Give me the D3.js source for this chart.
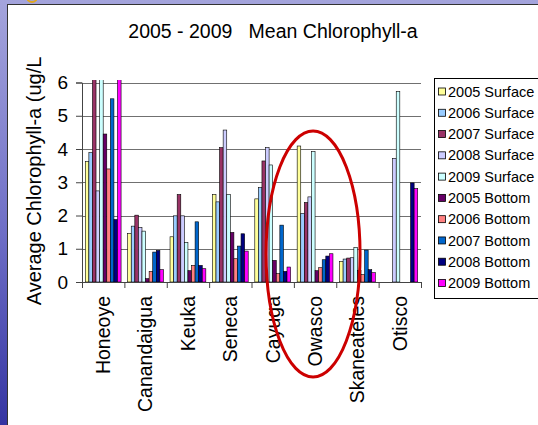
<!DOCTYPE html>
<html>
<head>
<meta charset="utf-8">
<script src="https://cdn.jsdelivr.net/npm/d3@7"></script>
<style>
  html, body { margin: 0; padding: 0; overflow: hidden; }
  text { font-family: Arial, "Liberation Sans", sans-serif; fill: #000; }
</style>
</head>
<body>
<svg id="chart" width="538" height="425"></svg>
<script>
// lakes along the x axis
const lakes = ["Honeoye", "Canandaigua", "Keuka", "Seneca", "Cayuga", "Owasco", "Skaneateles", "Otisco"]
const seriesNames = ["2005 Surface", "2006 Surface", "2007 Surface", "2008 Surface", "2009 Surface",
                     "2005 Bottom", "2006 Bottom", "2007 Bottom", "2008 Bottom", "2009 Bottom"]
const seriesColors = ["#FFFF99", "#99CCFF", "#993366", "#CCCCFF", "#CCFFFF",
                      "#660066", "#FF8080", "#0066CC", "#000080", "#FF00FF"]
const yTicks = [0, 1, 2, 3, 4, 5, 6]

// one array per series, one value per lake (null = no bar). bars above 6 run off the top
const s2005Surface = [3.62, 1.46, 1.36, 2.63, 2.50, 4.09, 0.62, null]
const s2006Surface = [3.89, 1.68, 1.99, 2.41, 2.84, 2.06, 0.69, null]
const s2007Surface = [7.0, 2.01, 2.63, 4.04, 3.64, 2.39, 0.72, null]
const s2008Surface = [2.74, 1.64, 1.99, 4.57, 4.04, 2.56, 0.73, 3.72]
const s2009Surface = [7.0, 1.53, 1.19, 2.63, 3.52, 3.92, 1.04, 5.73]
const s2005Bottom = [4.45, 0.10, 0.34, 1.49, 0.65, 0.34, 0.34, null]
const s2006Bottom = [3.40, 0.32, 0.50, 0.70, 0.25, 0.43, 0.22, null]
const s2007Bottom = [5.51, 0.90, 1.81, 1.08, 1.71, 0.67, 0.96, null]
const s2008Bottom = [1.88, 0.95, 0.50, 1.45, 0.32, 0.78, 0.37, 2.98]
const s2009Bottom = [7.0, 0.37, 0.40, 0.93, 0.45, 0.85, 0.28, 2.81]

const allSeries = [s2005Surface, s2006Surface, s2007Surface, s2008Surface, s2009Surface,
                   s2005Bottom, s2006Bottom, s2007Bottom, s2008Bottom, s2009Bottom]

const WIDTH = 538
const HEIGHT = 425
const PLOT = { left: 82, right: 421, top: 82.5, bottom: 282 }

const svg = d3.select("#chart")

// slide background
const defs = svg.append("defs")
const grad = defs.append("linearGradient")
    .attr("id", "slide").attr("x1", 0).attr("y1", 0).attr("x2", 0).attr("y2", 1)
grad.append("stop").attr("offset", "0%").attr("stop-color", "#a4a4dc")
grad.append("stop").attr("offset", "55%").attr("stop-color", "#6e6ec6")
grad.append("stop").attr("offset", "100%").attr("stop-color", "#3434a2")
svg.append("rect")
    .attr("width", WIDTH).attr("height", HEIGHT)
    .attr("fill", "url(#slide)")
svg.append("circle")
    .attr("cx", 32).attr("cy", -3).attr("r", 5)
    .attr("fill", "none").attr("stroke", "#e0a820").attr("stroke-width", 2)

// white chart box
svg.append("rect")
    .attr("x", 7.5).attr("y", 4.5)
    .attr("width", WIDTH).attr("height", HEIGHT)
    .attr("fill", "#fff").attr("stroke", "#333").attr("stroke-width", 1)

// scales
const x = d3.scaleBand().domain(lakes).range([PLOT.left, PLOT.right]).padding(0)
const xs = d3.scaleBand().domain(d3.range(seriesNames.length))
    .range([0, x.bandwidth()]).paddingInner(0).paddingOuter(0.92)
const y = d3.scaleLinear().domain([0, 6]).range([PLOT.bottom, PLOT.top])
const xEdge = d3.scaleLinear().domain([0, lakes.length]).range([PLOT.left, PLOT.right])

// gridlines
svg.append("g")
    .attr("transform", "translate(" + PLOT.left + ",0)")
    .call(d3.axisLeft(y).tickValues(yTicks.slice(1)).tickSize(-(PLOT.right - PLOT.left)).tickFormat(""))
    .call(g => g.select(".domain").remove())
    .call(g => g.selectAll("line").attr("stroke", "#707070").attr("shape-rendering", "crispEdges"))

// bars
defs.append("clipPath").attr("id", "plotclip")
    .append("rect")
    .attr("x", PLOT.left).attr("y", PLOT.top - 2.5)
    .attr("width", PLOT.right - PLOT.left).attr("height", PLOT.bottom - PLOT.top + 2.5)

const bars = []
allSeries.forEach(function(vals, si) {
    vals.forEach(function(v, li) {
        if (v !== null) bars.push({ lake: lakes[li], s: si, value: v })
    })
})

svg.append("g")
    .attr("clip-path", "url(#plotclip)")
    .selectAll("rect")
    .data(bars)
    .enter().append("rect")
    .attr("x", d => x(d.lake) + xs(d.s))
    .attr("y", d => y(d.value))
    .attr("width", xs.bandwidth())
    .attr("height", d => y(0) - y(d.value))
    .attr("fill", d => seriesColors[d.s])
    .attr("stroke", "#000")
    .attr("stroke-width", 0.6)

// y axis
svg.append("g")
    .attr("transform", "translate(" + PLOT.left + ",0)")
    .call(d3.axisLeft(y).tickValues(yTicks).tickSize(6).tickPadding(8).tickFormat(d3.format("d")))
    .call(g => g.select(".domain").attr("stroke", "#444"))
    .call(g => g.selectAll("line").attr("stroke", "#444"))
    .call(g => g.selectAll("text").attr("font-size", 19).attr("font-family", "Arial, 'Liberation Sans', sans-serif").attr("fill", "#000"))

// x axis with ticks between lakes
svg.append("g")
    .attr("transform", "translate(0," + PLOT.bottom + ")")
    .call(d3.axisBottom(xEdge).tickValues(d3.range(lakes.length + 1)).tickSize(6).tickSizeOuter(6).tickFormat(""))
    .call(g => g.select(".domain").attr("stroke", "#444"))
    .call(g => g.selectAll("line").attr("stroke", "#444"))

svg.append("g")
    .selectAll("text")
    .data(lakes)
    .enter().append("text")
    .attr("transform", d => "translate(" + (x(d) + x.bandwidth() / 2) + "," + 296 + ") rotate(-90)")
    .attr("text-anchor", "end")
    .attr("dy", "0.35em")
    .attr("font-size", 19.5)
    .text(d => d)

// title and y label
svg.append("text")
    .attr("x", 273).attr("y", 38)
    .attr("text-anchor", "middle")
    .attr("font-size", 19.5)
    .attr("xml:space", "preserve")
    .style("white-space", "pre")
    .text("2005 - 2009   Mean Chlorophyll-a")

svg.append("text")
    .attr("transform", "translate(34,181) rotate(-90)")
    .attr("text-anchor", "middle")
    .attr("dy", "0.35em")
    .attr("font-size", 20)
    .text("Average Chlorophyll-a (ug/L")

// legend
const legend = svg.append("g").attr("transform", "translate(434,78)")
legend.append("rect")
    .attr("x", 0.5).attr("y", 0.5)
    .attr("width", 110).attr("height", 220)
    .attr("fill", "#fff").attr("stroke", "#000").attr("stroke-width", 1)
const rowY = d3.scaleLinear().domain([0, seriesNames.length - 1]).range([13.5, 205])
const item = legend.selectAll(".item")
    .data(seriesNames)
    .enter().append("g")
    .attr("transform", (d, i) => "translate(0," + rowY(i) + ")")
item.append("rect")
    .attr("x", 4.5).attr("y", -3.5)
    .attr("width", 7).attr("height", 7)
    .attr("fill", (d, i) => seriesColors[i])
    .attr("stroke", "#000").attr("stroke-width", 0.8)
item.append("text")
    .attr("x", 14)
    .attr("dy", "0.35em")
    .attr("font-size", 14.5)
    .text(d => d)

// red ellipse round Owasco
svg.append("ellipse")
    .attr("cx", x("Owasco") + x.bandwidth() / 2 - 2).attr("cy", 254)
    .attr("rx", 47).attr("ry", 123)
    .attr("fill", "none")
    .attr("stroke", "#cc0000")
    .attr("stroke-width", 3)
</script>
</body>
</html>
